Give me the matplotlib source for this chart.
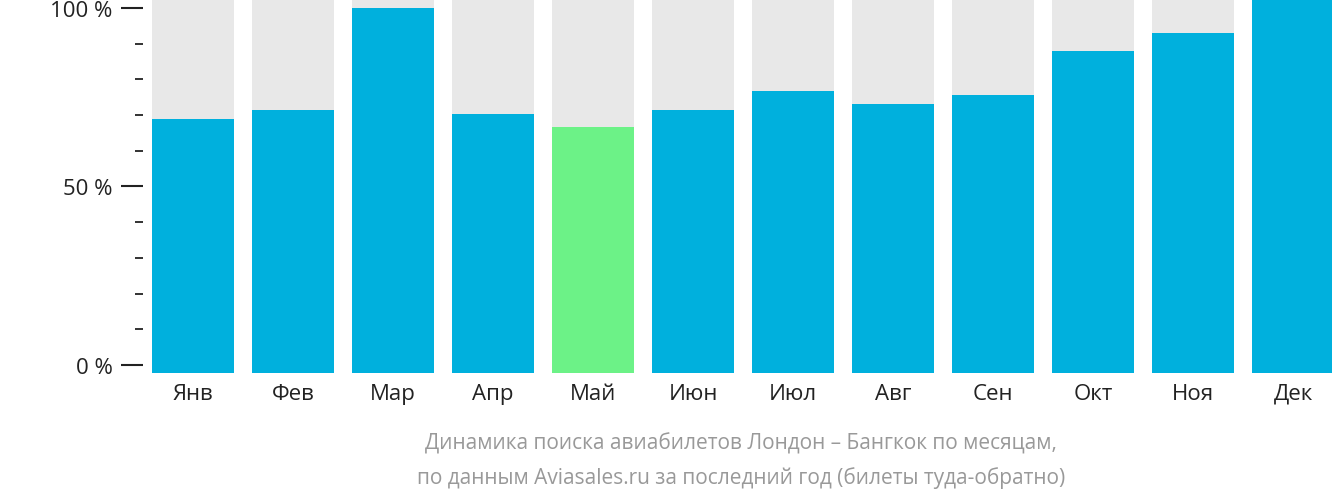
import matplotlib
matplotlib.use("Agg")
import matplotlib.pyplot as plt
from matplotlib.ticker import MultipleLocator

plt.rcParams["font.family"] = "Open Sans"

months = ["Янв", "Фев", "Мар", "Апр", "Май", "Июн", "Июл", "Авг", "Сен", "Окт", "Ноя", "Дек"]
values = [68.9, 71.4, 100.0, 70.3, 66.7, 71.4, 76.8, 73.1, 75.6, 88.0, 93.0, 103.0]
highlight = "Май"
yticks = [0, 50, 100]
ytick_labels = ["0 %", "50 %", "100 %"]
caption = ("Динамика поиска авиабилетов Лондон – Бангкок по месяцам,\n"
           "по данным Aviasales.ru за последний год (билеты туда-обратно)")

W, H = 1332, 502
fig = plt.figure(figsize=(W / 100, H / 100), dpi=100)
ax = fig.add_axes([150 / W, 1 - 374 / H, (W - 150) / W, 374 / H])

ymin, ymax = -2.24, 102.5
x = range(len(months))
ax.bar(x, [ymax - ymin] * len(months), bottom=ymin, width=0.82, color="#e8e8e8")
colors = ["#6cf287" if m == highlight else "#00b0dd" for m in months]
ax.bar(x, [v - ymin for v in values], bottom=ymin, width=0.82, color=colors)

ax.set_xlim(-0.43, 11.39)
ax.set_ylim(ymin, ymax)
for s in ax.spines.values():
    s.set_visible(False)
ax.spines["left"].set_position(("outward", 5))

ax.set_yticks(yticks)
ax.set_yticklabels(ytick_labels)
ax.yaxis.set_minor_locator(MultipleLocator(10))
ax.tick_params(axis="y", which="major", length=16, width=1.5, color="#222222",
               labelsize=16, labelcolor="#222222", pad=6)
ax.tick_params(axis="y", which="minor", length=6, width=1.3, color="#222222")
ax.set_xticks(list(x))
ax.set_xticklabels(months)
ax.tick_params(axis="x", length=0, labelsize=16, labelcolor="#222222", pad=7)

fig.text(741 / W, 1 - 461 / H, caption, ha="center", va="center",
         fontsize=15, color="#999999", linespacing=1.75)

fig.savefig("out.png", dpi=100)
